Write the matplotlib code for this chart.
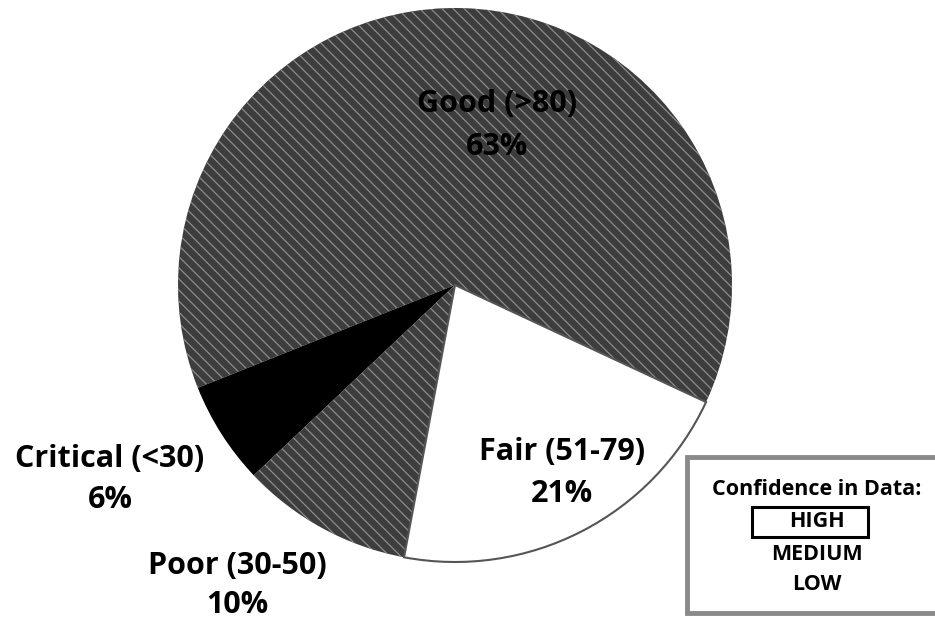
import matplotlib
matplotlib.use('Agg')
import matplotlib.pyplot as plt
from matplotlib.patches import Rectangle

# condition categories (ccw order from the start angle)
categories = ['Good (>80)', 'Critical (<30)', 'Poor (30-50)', 'Fair (51-79)']
shares = [63, 6, 10, 21]
confidence_levels = ['HIGH', 'MEDIUM', 'LOW']
confidence_title = 'Confidence in Data:'

H = 620  # figure height in px, used to flip y
plt.rcParams['font.family'] = ['Open Sans', 'DejaVu Sans']
plt.rcParams['hatch.linewidth'] = 0.9

fig = plt.figure(figsize=(9.35, 6.2), dpi=100)
ax = fig.add_axes([0, 0, 1, 1])

colors = ['#3d3d3d', '#000000', '#3d3d3d', '#ffffff']
hatches = ['\\\\\\', None, '\\\\\\', None]
wedges, _ = ax.pie(shares, center=(455, H - 285), radius=277, startangle=-25,
                   counterclock=True, colors=colors, frame=True)
for w, h, c in zip(wedges, hatches, colors):
    if h:
        w.set_hatch(h)
        w.set_edgecolor('#8c8c8c')
        w.set_linewidth(0)
    elif c == '#ffffff':
        w.set_edgecolor('#555555')
        w.set_linewidth(1.5)
    else:
        w.set_edgecolor('none')
ax.set_xlim(0, 935)
ax.set_ylim(0, H)
ax.set_aspect('equal')
ax.axis('off')

# label baselines (x center, line1 baseline, line2 baseline) in px from top
label_pos = [(497, 112, 155), (110, 467, 508), (237, 574, 613), (562, 460, 502)]
for name, v, (x, y1, y2) in zip(categories, shares, label_pos):
    ax.text(x, H - y1, name, ha='center', va='baseline', fontsize=22,
            fontweight='bold', color='black')
    ax.text(x, H - y2, f'{v}%', ha='center', va='baseline', fontsize=22,
            fontweight='bold', color='black')

# confidence box (runs off the right edge)
ax.add_patch(Rectangle((687, H - 613), 320, 156, facecolor='white',
                       edgecolor='#8a8a8a', linewidth=3.5, clip_on=True))
ax.text(817, H - 495, confidence_title, ha='center', va='baseline',
        fontsize=15.5, fontweight='bold')
conf_y = [527, 560, 590]
for lvl, y in zip(confidence_levels, conf_y):
    ax.text(817, H - y, lvl, ha='center', va='baseline', fontsize=15.5,
            fontweight='bold')
ax.add_patch(Rectangle((752, H - 537), 116, 30, facecolor='none',
                       edgecolor='black', linewidth=2.2))

fig.savefig('out.png', dpi=100)
